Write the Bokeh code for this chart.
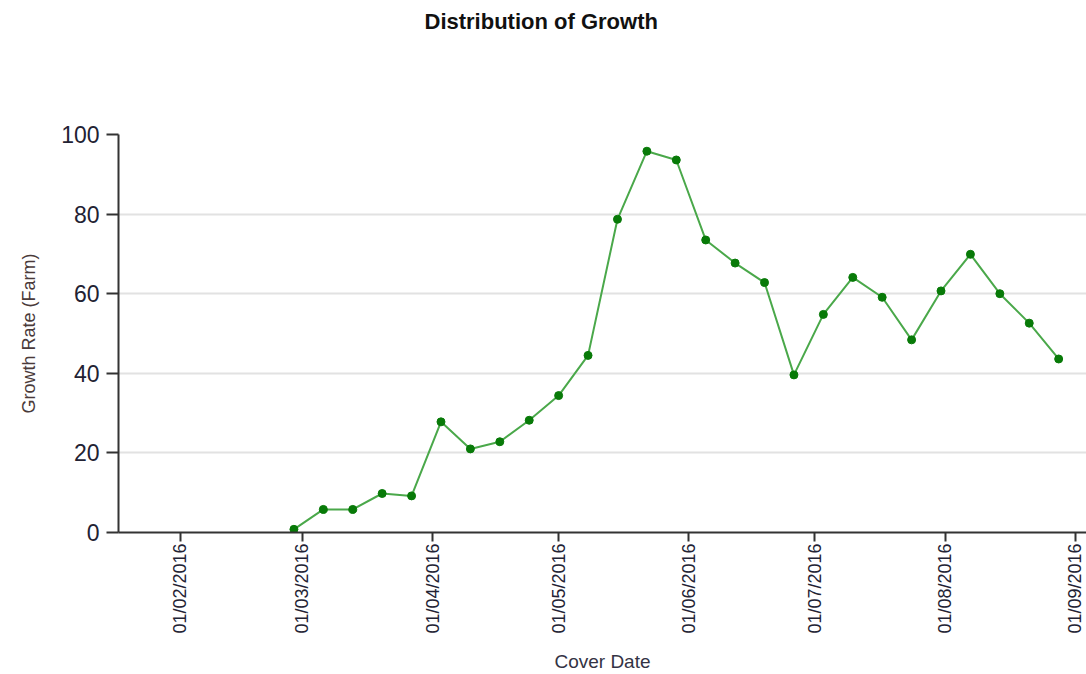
import math
import pandas as pd
from bokeh.plotting import figure
from bokeh.models import (Range1d, FixedTicker, DatetimeTickFormatter, ColumnDataSource, Title)
from bokeh.embed import file_html
from bokeh.resources import INLINE

# ---- data ----
dates = ["2016-02-28", "2016-03-06", "2016-03-13", "2016-03-20", "2016-03-27",
         "2016-04-03", "2016-04-10", "2016-04-17", "2016-04-24", "2016-05-01",
         "2016-05-08", "2016-05-15", "2016-05-22", "2016-05-29", "2016-06-05",
         "2016-06-12", "2016-06-19", "2016-06-26", "2016-07-03", "2016-07-10",
         "2016-07-17", "2016-07-24", "2016-07-31", "2016-08-07", "2016-08-14",
         "2016-08-21", "2016-08-28"]
growth = [0.8, 5.8, 5.8, 9.8, 9.2,
          27.8, 21.0, 22.8, 28.2, 34.4,
          44.5, 78.7, 95.8, 93.6, 73.5,
          67.7, 62.8, 39.6, 54.8, 64.1,
          59.1, 48.4, 60.7, 69.9, 60.0,
          52.6, 43.6]
x_tick_labels = ["01/02/2016", "01/03/2016", "01/04/2016", "01/05/2016",
                 "01/06/2016", "01/07/2016", "01/08/2016", "01/09/2016"]
y_ticks = [0, 20, 40, 60, 80, 100]
title_text = "Distribution of Growth"

src = ColumnDataSource(dict(date=pd.to_datetime(dates), growth=growth))
tick_ms = [int(t.value // 10**6) for t in pd.to_datetime(x_tick_labels, format="%d/%m/%Y")]

FONT = "Liberation Sans"

p = figure(width=1086, height=674, x_axis_type="datetime",
           output_backend="svg", toolbar_location=None,
           x_range=Range1d(start=pd.Timestamp("2016-01-17 06:00"), end=pd.Timestamp("2016-09-03 15:00")),
           y_range=Range1d(start=0, end=100),
           min_border_left=118, min_border_right=0,
           min_border_top=134, min_border_bottom=141)
p.outline_line_color = None
p.background_fill_color = "white"
p.border_fill_color = "white"

# spacer panel just above the frame (first "above" item sits closest to the frame)
p.add_layout(Title(text=" ", text_font_size="1px", standoff=91), "above")
# the real title, stacked above the spacer
p.add_layout(Title(text=title_text, align="left", offset=306, vertical_align="top",
                   standoff=10, text_font=FONT, text_font_size="22px",
                   text_font_style="bold", text_color="#111111"), "above")

# grids
p.xgrid.grid_line_color = None
p.ygrid.grid_line_color = "#e2e2e2"
p.ygrid.grid_line_width = 2
p.ygrid.ticker = FixedTicker(ticks=y_ticks)

# x axis
xa = p.below[0]
xa.ticker = FixedTicker(ticks=tick_ms)
xa.formatter = DatetimeTickFormatter(days="%d/%m/%Y", months="%d/%m/%Y", years="%d/%m/%Y")
xa.major_label_orientation = math.pi / 2
xa.major_label_text_font = FONT
xa.major_label_text_font_size = "18px"
xa.major_label_text_color = "#222233"
xa.major_label_standoff = 2
xa.major_tick_out = 9
xa.major_tick_in = 0
xa.minor_tick_out = 0
xa.minor_tick_in = 0
xa.major_tick_line_color = "#333333"
xa.major_tick_line_width = 2
xa.axis_line_color = "#333333"
xa.axis_line_width = 2
xa.axis_label = "Cover Date"
xa.axis_label_text_font = FONT
xa.axis_label_text_font_size = "19px"
xa.axis_label_text_font_style = "normal"
xa.axis_label_text_color = "#333344"
xa.axis_label_standoff = 14

# y axis
ya = p.left[0]
ya.ticker = FixedTicker(ticks=y_ticks)
ya.major_label_text_font = FONT
ya.major_label_text_font_size = "23px"
ya.major_label_text_color = "#222233"
ya.major_label_standoff = 7
ya.major_tick_out = 12
ya.major_tick_in = 0
ya.minor_tick_out = 0
ya.minor_tick_in = 0
ya.major_tick_line_color = "#333333"
ya.major_tick_line_width = 2
ya.axis_line_color = "#333333"
ya.axis_line_width = 2
ya.axis_label = "Growth Rate (Farm)"
ya.axis_label_text_font = FONT
ya.axis_label_text_font_size = "18px"
ya.axis_label_text_font_style = "normal"
ya.axis_label_text_color = "#4a3a3a"
ya.axis_label_standoff = 19

# series
p.line("date", "growth", source=src, line_color="#4aa84a", line_width=2)
p.scatter("date", "growth", source=src, size=8, fill_color="#087a08",
          line_color="#087a08")

open("out.html", "w").write(file_html(p, INLINE))
